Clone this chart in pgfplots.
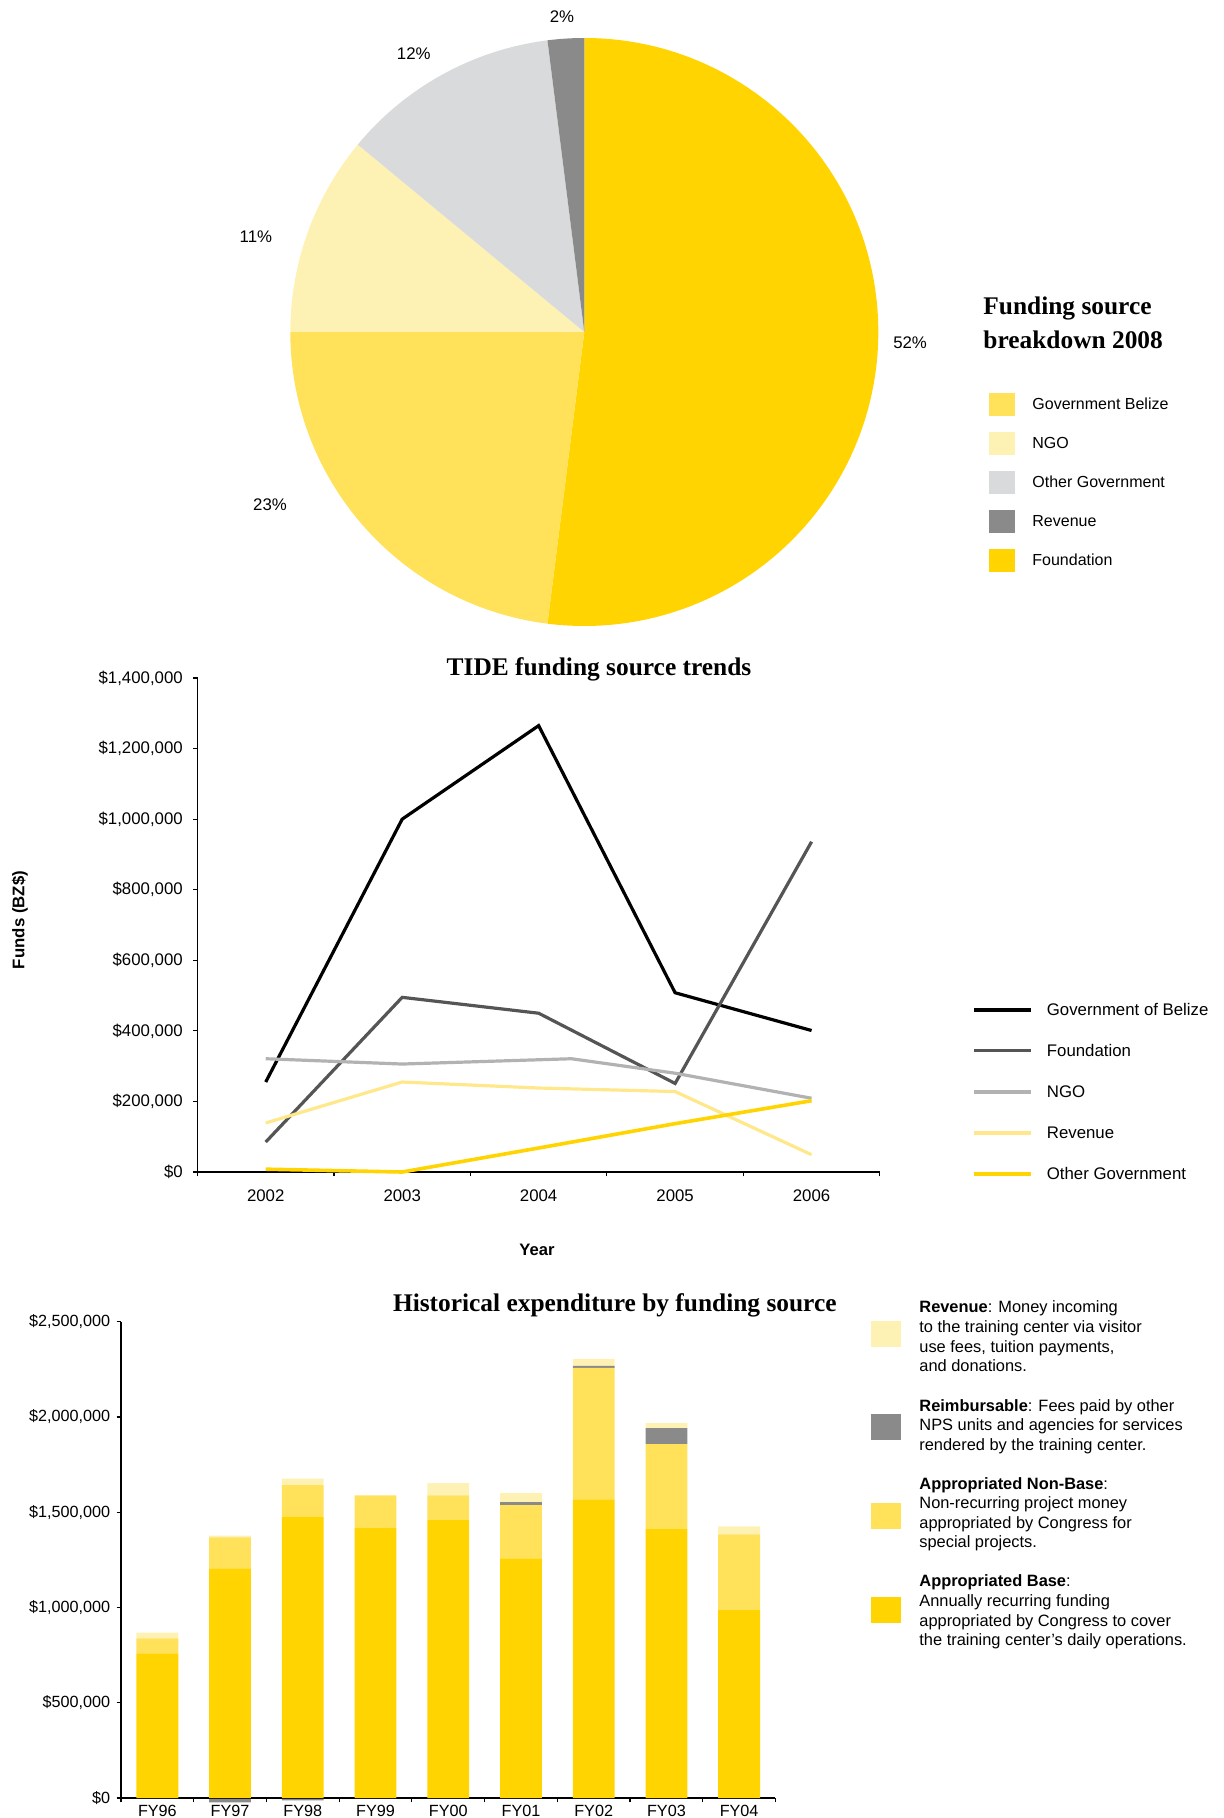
\documentclass[border=0pt]{standalone}
\usepackage{fontspec}
\setmainfont{Liberation Sans}
\newfontfamily\titlefont{Liberation Serif}
\usepackage{pgfplots}
\usepackage{pgfplotstable}
\pgfplotsset{compat=1.18}

\definecolor{gold}{RGB}{255,212,0}
\definecolor{ylw}{RGB}{255,225,90}
\definecolor{pale}{RGB}{254,241,180}
\definecolor{lgray}{RGB}{217,218,219}
\definecolor{mgray}{RGB}{138,138,138}
\definecolor{dgray}{RGB}{85,85,85}
\definecolor{ngogray}{RGB}{178,178,178}
\definecolor{revline}{RGB}{255,232,140}

\newcommand{\pieslice}[3]{%
  \pgfmathsetmacro\sa{90-3.6*#1}%
  \pgfmathsetmacro\ea{90-3.6*(#1+#2)}%
  \edef\doslice{\noexpand\fill[#3] (axis cs:0,0) -- (axis cs:{cos(\sa)},{sin(\sa)}) arc[start angle=\sa, end angle=\ea, radius=147pt] -- cycle;}%
  \doslice}

\newcommand{\barleg}[2]{\node[anchor=base west, inner sep=0pt, font=\fontsize{8.2}{9.8}\selectfont] at (459.5pt,#1) {#2};}
\newcommand{\pieleg}[2]{\node[anchor=base west, inner sep=0pt, font=\fontsize{8}{9.6}\selectfont] at (516pt,#1) {#2};}
\newcommand{\lineleg}[2]{\node[anchor=base west, inner sep=0pt, font=\fontsize{8.4}{10}\selectfont] at (523.25pt,#1) {#2};}

\pgfplotstableread{
x base nonbase reimb revenue
0 759000 79000 0 30000
1 1205000 163000 0 9000
2 1474000 168000 0 35000
3 1416000 173000 0 0
4 1458000 131000 0 64000
5 1258000 279000 16000 47000
6 1568000 690000 10000 37000
7 1411000 447000 84000 26000
8 989000 395000 0 42000
}\bardata

\begin{document}
\begin{tikzpicture}
\useasboundingbox (0,0) rectangle (612pt,-909pt);

% ---------------- Pie ----------------
\begin{axis}[at={(292.15pt,-166pt)}, anchor=center, width=294pt, height=294pt,
  scale only axis, xmin=-1, xmax=1, ymin=-1, ymax=1, hide axis, clip=false]
\pieslice{0}{52}{gold}
\pieslice{52}{23}{ylw}
\pieslice{75}{11}{pale}
\pieslice{86}{12}{lgray}
\pieslice{98}{2}{mgray}
\node[inner sep=0pt, font=\fontsize{8.4}{10}\selectfont] at (axis cs:1.108,-0.037) {52\%};
\node[inner sep=0pt, font=\fontsize{8.4}{10}\selectfont] at (axis cs:-1.069,-0.588) {23\%};
\node[inner sep=0pt, font=\fontsize{8.4}{10}\selectfont] at (axis cs:-1.117,0.324) {11\%};
\node[inner sep=0pt, font=\fontsize{8.4}{10}\selectfont] at (axis cs:-0.580,0.946) {12\%};
\node[inner sep=0pt, font=\fontsize{8.4}{10}\selectfont] at (axis cs:-0.076,1.071) {2\%};
\end{axis}

\node[anchor=base west, inner sep=0pt, font=\titlefont\bfseries\fontsize{12.7}{15}\selectfont] at (491.5pt,-157.3pt) {Funding source};
\node[anchor=base west, inner sep=0pt, font=\titlefont\bfseries\fontsize{12.7}{15}\selectfont] at (491.5pt,-174.3pt) {breakdown 2008};
\fill[ylw]   (494.35pt,-196.5pt) rectangle (507.5pt,-208pt);
\fill[pale]  (494.35pt,-216pt)   rectangle (507.5pt,-227.5pt);
\fill[lgray] (494.35pt,-235.5pt) rectangle (507.5pt,-247pt);
\fill[mgray] (494.35pt,-255pt)   rectangle (507.5pt,-266.5pt);
\fill[gold]  (494.35pt,-274.5pt) rectangle (507.5pt,-286pt);
\pieleg{-204.8pt}{Government Belize}
\pieleg{-224.3pt}{NGO}
\pieleg{-243.8pt}{Other Government}
\pieleg{-263.3pt}{Revenue}
\pieleg{-282.8pt}{Foundation}

% ---------------- Line chart ----------------
\begin{axis}[at={(98.75pt,-586pt)}, anchor=south west, width=341.15pt, height=247pt,
  scale only axis, xmin=2001.5, xmax=2006.5, ymin=0, ymax=1400000,
  axis lines*=left, tick pos=left, axis line style={line width=0.8pt},
  tick align=outside, major tick length=2.2pt, minor tick length=2.2pt,
  tick style={line width=0.6pt, black},
  xtick={2002,2003,2004,2005,2006}, xticklabels={2002,2003,2004,2005,2006},
  minor xtick={2001.5,2002.5,2003.5,2004.5,2005.5,2006.5},
  major x tick style={draw=none},
  ytick={0,200000,400000,600000,800000,1000000,1200000,1400000},
  yticklabels={{\$0},{\$200,000},{\$400,000},{\$600,000},{\$800,000},{\$1,000,000},{\$1,200,000},{\$1,400,000}},
  scaled y ticks=false,
  ticklabel style={font=\fontsize{8.4}{10}\selectfont, inner sep=0pt},
  xticklabel style={anchor=base, yshift=-12.6pt},
  yticklabel style={anchor=east, xshift=-5pt},
  clip=false]
\addplot[black, line width=1.6pt] coordinates {(2002,255000) (2003,1000000) (2004,1265000) (2005,508000) (2006,401000)};
\addplot[dgray, line width=1.6pt] coordinates {(2002,85000) (2003,495000) (2004,450000) (2005,251000) (2006,936000)};
\addplot[ngogray, line width=1.6pt] coordinates {(2002,321000) (2003,306000) (2004.24,321000) (2005,280000) (2006,209000)};
\addplot[revline, line width=1.6pt] coordinates {(2002,139000) (2003,255000) (2004,238000) (2005,228000) (2006,49000)};
\addplot[gold, line width=1.8pt] coordinates {(2002,8000) (2003,0) (2004,68000) (2005,137000) (2006,202000)};
\end{axis}

\node[anchor=base, inner sep=0pt, font=\titlefont\bfseries\fontsize{12.7}{15}\selectfont] at (299.5pt,-337.5pt) {TIDE funding source trends};
\node[rotate=90, inner sep=0pt, font=\bfseries\fontsize{8.4}{10}\selectfont] at (10pt,-460pt) {Funds (BZ\$)};
\node[anchor=base, inner sep=0pt, font=\bfseries\fontsize{8.3}{10}\selectfont] at (268.5pt,-627.5pt) {Year};

\draw[black, line width=1.8pt]   (487pt,-504.9pt) -- (515.5pt,-504.9pt);
\draw[dgray, line width=1.8pt]   (487pt,-525.2pt) -- (515.5pt,-525.2pt);
\draw[ngogray, line width=1.8pt] (487pt,-545.85pt) -- (515.5pt,-545.85pt);
\draw[revline, line width=1.8pt] (487pt,-566.45pt) -- (515.5pt,-566.45pt);
\draw[gold, line width=1.8pt]    (487pt,-586.9pt) -- (515.5pt,-586.9pt);
\lineleg{-507.9pt}{Government of Belize}
\lineleg{-528.2pt}{Foundation}
\lineleg{-548.85pt}{NGO}
\lineleg{-569.45pt}{Revenue}
\lineleg{-589.9pt}{Other Government}

% ---------------- Bar chart ----------------
\begin{axis}[at={(60.5pt,-899pt)}, anchor=south west, width=327.25pt, height=238.15pt,
  scale only axis, xmin=-0.5, xmax=8.5, ymin=0, ymax=2500000,
  hide axis, clip=false, ybar, bar width=20.9pt]
\addplot[fill=mgray, draw=none] coordinates {(1,-23000) (2,-12000)};
\end{axis}

\begin{axis}[at={(60.5pt,-899pt)}, anchor=south west, width=327.25pt, height=238.15pt,
  scale only axis, xmin=-0.5, xmax=8.5, ymin=0, ymax=2500000,
  ybar stacked, bar width=20.9pt,
  axis lines*=left, tick pos=left, axis line style={line width=0.8pt},
  tick align=outside, major tick length=2.2pt, minor tick length=2.2pt,
  tick style={line width=0.6pt, black},
  xtick={0,...,8}, xticklabels={FY96,FY97,FY98,FY99,FY00,FY01,FY02,FY03,FY04},
  minor xtick={-0.5,0.5,1.5,2.5,3.5,4.5,5.5,6.5,7.5,8.5},
  major x tick style={draw=none},
  ytick={0,500000,1000000,1500000,2000000,2500000},
  yticklabels={{\$0},{\$500,000},{\$1,000,000},{\$1,500,000},{\$2,000,000},{\$2,500,000}},
  scaled y ticks=false,
  ticklabel style={font=\fontsize{8.1}{10}\selectfont, inner sep=0pt},
  xticklabel style={anchor=base, yshift=-7.2pt},
  yticklabel style={anchor=east, xshift=-3pt},
  clip=false]
\addplot[fill=gold, draw=none] table[x=x, y=base] {\bardata};
\addplot[fill=ylw, draw=none] table[x=x, y=nonbase] {\bardata};
\addplot[fill=mgray, draw=none] table[x=x, y=reimb] {\bardata};
\addplot[fill=pale, draw=none] table[x=x, y=revenue] {\bardata};
\end{axis}

\node[anchor=base, inner sep=0pt, font=\titlefont\bfseries\fontsize{12.7}{15}\selectfont] at (307.4pt,-655.5pt) {Historical expenditure by funding source};

\fill[pale]  (435.5pt,-660.5pt)  rectangle (450.5pt,-673.35pt);
\fill[mgray] (435.5pt,-707pt)    rectangle (450.5pt,-719.85pt);
\fill[ylw]   (435.5pt,-751.65pt) rectangle (450.5pt,-764.35pt);
\fill[gold]  (435.5pt,-798.5pt)  rectangle (450.5pt,-811.35pt);

\barleg{-656.35pt}{\textbf{Revenue}: Money incoming}
\barleg{-666.18pt}{to the training center via visitor}
\barleg{-676.01pt}{use fees, tuition payments,}
\barleg{-685.84pt}{and donations.}
\barleg{-705.5pt}{\textbf{Reimbursable}: Fees paid by other}
\barleg{-715.33pt}{NPS units and agencies for services}
\barleg{-725.16pt}{rendered by the training center.}
\barleg{-744.5pt}{\textbf{Appropriated Non-Base}:}
\barleg{-754.33pt}{Non-recurring project money}
\barleg{-764.16pt}{appropriated by Congress for}
\barleg{-773.99pt}{special projects.}
\barleg{-793.35pt}{\textbf{Appropriated Base}:}
\barleg{-803.18pt}{Annually recurring funding}
\barleg{-813.01pt}{appropriated by Congress to cover}
\barleg{-822.84pt}{the training center’s daily operations.}
\end{tikzpicture}
\end{document}
